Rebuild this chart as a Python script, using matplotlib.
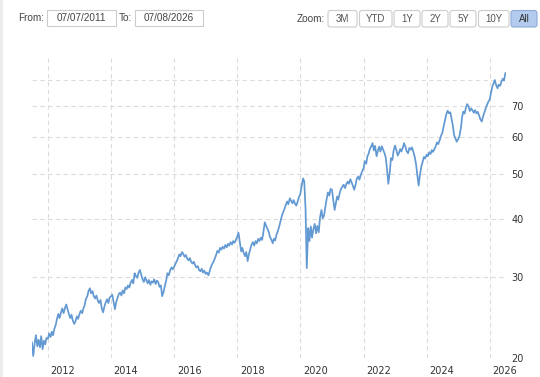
import matplotlib
matplotlib.use("Agg")
import matplotlib.pyplot as plt
from matplotlib.patches import FancyBboxPatch, Rectangle
from matplotlib.transforms import ScaledTranslation
import pandas as pd

# ---------------- data (semi-monthly closes) ----------------
v2011 = [21.6, 20.2, 21.5, 22.4, 21.2, 21.9, 21.1, 22.3, 20.9, 21.8, 21.4, 22.1]
v2012 = [22.0, 22.6, 22.2, 22.8, 22.4, 23.1, 23.6, 24.3, 24.9, 24.4, 25.1, 25.6,
         25.0, 25.6, 26.1, 25.5, 24.9, 24.4, 24.8, 24.1, 23.7, 24.0, 24.6, 24.3]
v2013 = [24.9, 25.3, 25.0, 25.6, 26.0, 26.8, 27.2, 27.9, 28.3, 27.6, 27.9, 27.2,
         26.9, 27.3, 26.6, 26.3, 26.7, 25.6, 25.1, 25.8, 26.4, 26.8, 26.3, 27.0]
v2014 = [27.2, 27.4, 26.3, 25.5, 26.4, 26.9, 27.5, 27.7, 27.3, 28.0, 27.6, 28.4,
         28.2, 28.7, 28.4, 29.1, 29.5, 29.0, 30.5, 30.1, 29.8, 30.6, 31.0, 30.3]
v2015 = [29.6, 29.2, 29.9, 29.4, 29.0, 29.5, 28.8, 29.3, 29.1, 29.6, 28.9, 29.4,
         29.2, 28.5, 28.7, 27.2, 27.8, 28.6, 29.4, 30.5, 30.2, 30.9, 31.4, 31.1]
v2016 = [31.5, 31.9, 32.4, 32.9, 33.5, 33.2, 33.9, 33.6, 33.1, 33.4, 32.8, 32.5,
         32.9, 32.3, 32.0, 32.3, 31.7, 31.4, 31.6, 31.0, 30.8, 31.2, 30.6, 30.9]
v2017 = [30.4, 30.6, 30.2, 30.8, 31.4, 31.9, 32.3, 32.8, 33.4, 34.1, 33.8, 34.6,
         34.3, 34.8, 34.5, 35.1, 34.7, 35.3, 35.0, 35.6, 35.2, 35.8, 35.5, 36.0]
v2018 = [36.6, 37.3, 35.5, 34.0, 34.6, 33.8, 33.2, 33.9, 32.4, 33.5, 34.4, 35.2,
         35.6, 35.0, 35.8, 35.4, 36.2, 35.8, 36.4, 36.0, 37.6, 39.3, 38.6, 38.1]
v2019 = [37.4, 36.5, 36.0, 35.4, 36.2, 35.9, 37.0, 37.6, 38.5, 39.4, 40.6, 41.3,
         42.0, 42.8, 43.6, 43.0, 44.3, 43.8, 43.2, 43.9, 43.1, 42.7, 43.6, 44.5]
v2020 = [45.3, 47.0, 48.9, 48.2, 42.0, 31.3, 38.2, 35.8, 38.5, 36.4, 38.1, 39.0,
         37.2, 38.6, 37.4, 40.2, 41.8, 40.1, 40.6, 42.3, 44.2, 45.6, 44.9, 46.4]
v2021 = [46.2, 44.0, 41.8, 43.2, 44.7, 44.0, 45.5, 46.4, 46.9, 47.4, 46.6, 47.5,
         48.1, 47.6, 48.7, 48.0, 47.1, 46.2, 47.4, 48.8, 49.4, 48.6, 49.8, 50.6]
v2022 = [51.4, 53.3, 52.6, 54.6, 55.3, 56.6, 57.4, 58.3, 56.2, 57.5, 54.6, 56.0,
         57.3, 55.9, 57.4, 56.5, 55.4, 54.3, 51.0, 47.6, 50.5, 54.1, 53.6, 56.2]
v2023 = [57.6, 56.4, 54.8, 55.5, 56.6, 55.9, 57.0, 58.3, 57.2, 56.0, 55.4, 56.9,
         56.4, 57.1, 55.8, 54.6, 52.5, 49.8, 47.2, 49.6, 51.9, 53.0, 54.4, 54.0]
v2024 = [55.0, 54.6, 55.7, 55.2, 56.3, 55.8, 56.6, 57.4, 58.5, 58.0, 59.2, 60.4,
         61.4, 63.2, 65.5, 67.2, 68.5, 67.6, 68.0, 66.0, 63.4, 60.6, 59.6, 58.7]
v2025 = [59.5, 60.4, 62.8, 66.4, 68.2, 67.5, 69.6, 70.8, 69.9, 68.4, 69.3, 68.6,
         67.8, 68.7, 67.6, 68.1, 66.8, 65.6, 64.9, 66.5, 68.0, 69.3, 70.6, 71.6]
v2026 = [72.5, 74.8, 77.4, 78.6, 79.8, 77.9, 76.6, 78.0, 77.5, 79.0, 80.3, 79.6, 82.6]

values = (v2011 + v2012 + v2013 + v2014 + v2015 + v2016 + v2017 + v2018 + v2019
          + v2020 + v2021 + v2022 + v2023 + v2024 + v2025 + v2026)
dates = pd.date_range("2011-07-01", "2026-07-01", freq="SMS")[:len(values)]

y_ticks = [20, 30, 40, 50, 60, 70, 80]
y_labels = ["20", "30", "40", "50", "60", "70", ""]
x_years = list(range(2012, 2027, 2))
range_from = "07/07/2011"
range_to = "07/08/2026"
zoom_buttons = ["3M", "YTD", "1Y", "2Y", "5Y", "10Y", "All"]

# ---------------- figure ----------------
W, H = 540, 377
fig = plt.figure(figsize=(W / 100, H / 100), dpi=100)
fig.patch.set_facecolor("white")

# overlay in pixel coordinates for the UI bits
ui = fig.add_axes([0, 0, 1, 1])
ui.set_xlim(0, W)
ui.set_ylim(H, 0)
ui.axis("off")
ui.patch.set_alpha(0)

ui.add_patch(Rectangle((0, 0), 2.5, H, facecolor="#ececec", edgecolor="none"))

ui_font = ["Liberation Sans", "DejaVu Sans"]
txtc = "#444444"
ui.text(18, 18, "From:", fontsize=7.2, color=txtc, va="center", ha="left", family=ui_font)
ui.add_patch(Rectangle((47, 9.5), 69, 16.5, facecolor="white", edgecolor="#cccccc", lw=0.8))
ui.text(81.5, 18, range_from, fontsize=7.2, color=txtc, va="center", ha="center", family=ui_font)
ui.text(119, 18, "To:", fontsize=7.2, color=txtc, va="center", ha="left", family=ui_font)
ui.add_patch(Rectangle((134.5, 9.5), 68, 16.5, facecolor="white", edgecolor="#cccccc", lw=0.8))
ui.text(168.5, 18, range_to, fontsize=7.2, color=txtc, va="center", ha="center", family=ui_font)

ui.text(297, 18.5, "Zoom:", fontsize=7.2, color=txtc, va="center", ha="left", family=ui_font)
btn_x = [328, 359.5, 394, 422, 450, 478.5, 511]
btn_w = [29, 32.5, 26, 26, 26, 30.5, 26]
for lab, bx, bw in zip(zoom_buttons, btn_x, btn_w):
    sel = lab == "All"
    ui.add_patch(FancyBboxPatch((bx, 10.5), bw, 16.5,
                                boxstyle="round,pad=0,rounding_size=2.5",
                                facecolor="#b3cbee" if sel else "white",
                                edgecolor="#8fa9d6" if sel else "#cccccc", lw=0.8))
    ui.text(bx + bw / 2, 19, lab, fontsize=7.0, color="#333333" if sel else "#555555",
            va="center", ha="center", family=ui_font)

# main chart
ax = fig.add_axes([32 / W, (H - 358) / H, 474 / W, 301 / H])
ax.patch.set_alpha(0)
ax.plot(dates, values, color="#6299d2", lw=1.25, solid_joinstyle="round", zorder=3)

ax.set_yscale("log")
ax.set_ylim(20, 89.5)
ax.set_xlim(pd.Timestamp("2011-07-01"), pd.Timestamp("2026-07-08"))
ax.yaxis.set_major_locator(matplotlib.ticker.FixedLocator(y_ticks))
ax.yaxis.set_minor_locator(matplotlib.ticker.NullLocator())
ax.set_yticklabels(y_labels)
ax.yaxis.tick_right()

xt = [pd.Timestamp(f"{y}-01-01") for y in x_years]
ax.set_xticks(xt)
ax.set_xticklabels([str(y) for y in x_years])

for s in ax.spines.values():
    s.set_visible(False)

ax.tick_params(axis="both", length=0, labelsize=7.0, labelcolor="#333333")
ax.tick_params(axis="x", pad=6)
ax.tick_params(axis="y", pad=4)
for lab in ax.get_xticklabels():
    lab.set_transform(lab.get_transform() + ScaledTranslation(15 / 100, 0, fig.dpi_scale_trans))

ax.grid(True, which="major", axis="both", color="#dcdcdc", lw=0.8,
        linestyle=(0, (4, 3)), zorder=0)

fig.savefig("out.png", dpi=100, facecolor="white")
